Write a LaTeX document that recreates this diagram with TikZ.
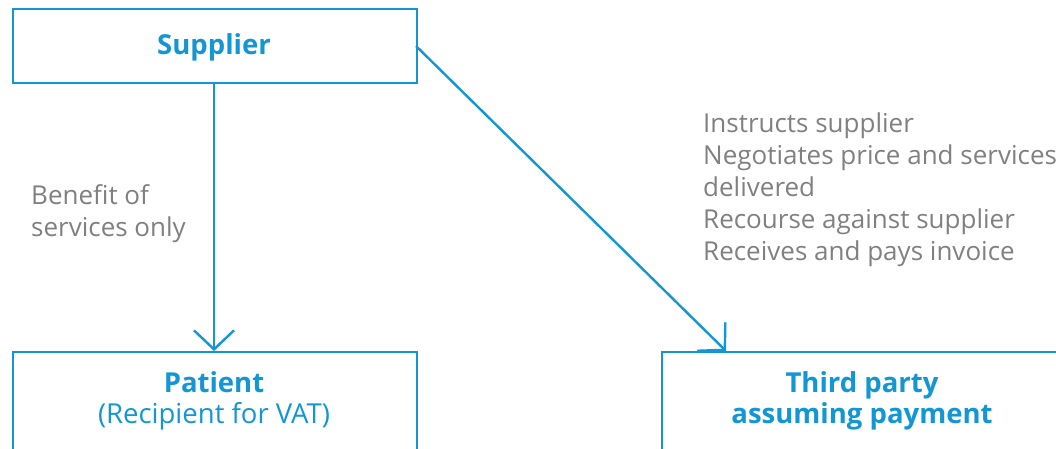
\documentclass[tikz,border=0pt]{standalone}
\usepackage{fontspec}
\setmainfont{Open Sans}
\usetikzlibrary{arrows.meta}
\definecolor{tblue}{RGB}{18,150,212}
\definecolor{tgray}{RGB}{128,128,128}
\tikzset{
  box/.style={draw=tblue, line width=2.4pt, fill=none, minimum width=404pt, inner sep=0pt},
  boxtext/.style={text=tblue, align=center, font=\fontsize{27.5}{31}\selectfont},
  note/.style={text=tgray, align=left, anchor=north west, inner sep=0pt, font=\fontsize{26}{32}\selectfont},
  conn/.style={draw=tblue, line width=2.4pt, -{Straight Barb[length=19pt, width=40pt, line width=2.4pt]}}
}
\begin{document}
\begin{tikzpicture}[x=1pt, y=-1pt]
\useasboundingbox (0,0) rectangle (1056,448);
\clip (0,0) rectangle (1056,448);
\node[box, minimum height=74pt, anchor=north west] (supplier) at (12,8) {};
\node[boxtext] (supplierlabel) at (214,47) {\bfseries Supplier};
\node[box, minimum height=130pt, anchor=north west] (patient) at (12,351) {};
\node[boxtext] (patientlabel) at (214,401) {\bfseries Patient\\(Recipient for VAT)};
\node[box, minimum height=130pt, anchor=north west] (third) at (661,351) {};
\node[boxtext] (thirdlabel) at (862,401) {\bfseries Third party\\\bfseries assuming payment};
\node[note] (benefit) at (31,184) {Benefit of\\services only};
\node[note] (duties) at (703,113) {Instructs supplier\\Negotiates price and services\\delivered\\Recourse against supplier\\Receives and pays invoice};
\coordinate (s1) at (214,82);
\coordinate (p1) at (214,351);
\coordinate (s2) at (416,46);
\coordinate (t1) at (726,351);
\draw[conn] (s1) -- (p1);
\draw[conn] (s2) -- (t1);
\end{tikzpicture}
\end{document}
